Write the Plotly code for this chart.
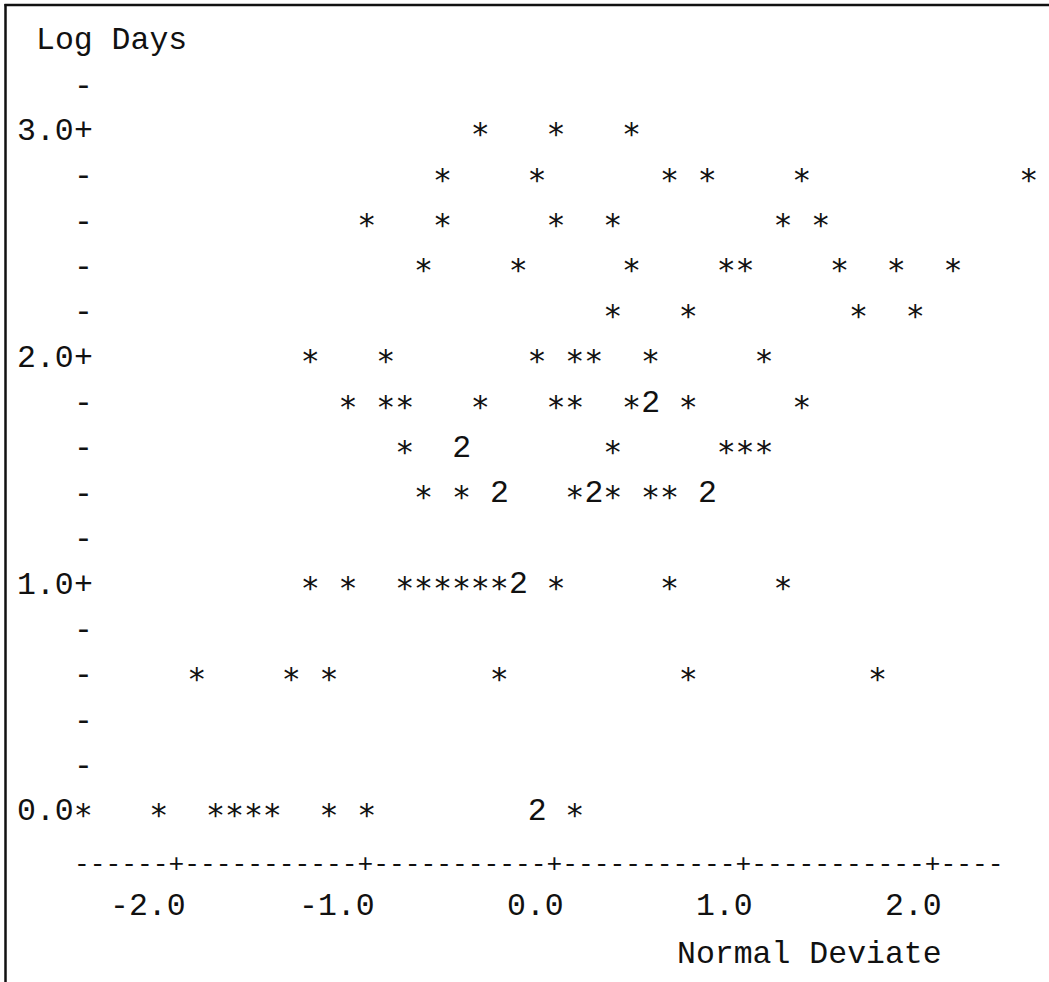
import plotly.graph_objects as go

# Normal deviate (x), log10 days (y) and number of cases printed in each cell.
normal_deviate = [
    -0.39, 0.01, 0.41,                                             # 3.0
    -0.59, -0.09, 0.61, 0.81, 1.31, 2.51,                          # 2.8
    -0.99, -0.59, 0.01, 0.31, 1.21, 1.41,                          # 2.6
    -0.69, -0.19, 0.41, 0.91, 1.01, 1.51, 1.81, 2.11,              # 2.4
    0.31, 0.71, 1.61, 1.91,                                        # 2.2
    -1.29, -0.89, -0.09, 0.11, 0.21, 0.51, 1.11,                   # 2.0
    -1.09, -0.89, -0.79, -0.39, 0.01, 0.11, 0.41, 0.51, 0.71, 1.31,  # 1.8
    -0.79, -0.49, 0.31, 0.91, 1.01, 1.11,                          # 1.6
    -0.69, -0.49, -0.29, 0.11, 0.21, 0.31, 0.51, 0.61, 0.81,       # 1.4
    -1.29, -1.09, -0.79, -0.69, -0.59, -0.49, -0.39, -0.29, -0.19, 0.01, 0.61, 1.21,  # 1.0
    -1.89, -1.39, -1.19, -0.29, 0.71, 1.71,                        # 0.6
    -2.49, -2.09, -1.79, -1.69, -1.59, -1.49, -1.19, -0.99, -0.09, 0.11,  # 0.0
]
log_days = (
    [3.0] * 3 + [2.8] * 6 + [2.6] * 6 + [2.4] * 8 + [2.2] * 4 + [2.0] * 7
    + [1.8] * 10 + [1.6] * 6 + [1.4] * 9 + [1.0] * 12 + [0.6] * 6 + [0.0] * 10
)
case_count = [
    1, 1, 1,
    1, 1, 1, 1, 1, 1,
    1, 1, 1, 1, 1, 1,
    1, 1, 1, 1, 1, 1, 1, 1,
    1, 1, 1, 1,
    1, 1, 1, 1, 1, 1, 1,
    1, 1, 1, 1, 1, 1, 1, 2, 1, 1,
    1, 2, 1, 1, 1, 1,
    1, 1, 2, 1, 2, 1, 1, 1, 2,
    1, 1, 1, 1, 1, 1, 1, 1, 2, 1, 1, 1,
    1, 1, 1, 1, 1, 1,
    1, 1, 1, 1, 1, 1, 1, 1, 2, 1,
]

y_rows = [0.0, 0.2, 0.4, 0.6, 0.8, 1.0, 1.2, 1.4, 1.6, 1.8, 2.0, 2.2, 2.4, 2.6, 2.8, 3.0, 3.2]
y_major = [0.0, 1.0, 2.0, 3.0]
x_ticks = [-2.0, -1.0, 0.0, 1.0, 2.0]
x_tick_labels = ["-2.0", "-1.0", "0.0", "1.0", "2.0"]

# character-grid geometry (data units)
COL = 0.1            # width of one printed column on the x scale
AXIS_X = -2.49       # column holding the vertical axis
FONT = "Liberation Mono, DejaVu Sans Mono, monospace"
STAR_FONT = "DejaVu Sans Mono, Liberation Mono, monospace"
SIZE = 31.5
INK = "#111111"

W, H = 1049, 982
X_PER_PX, X0_PX = 189.1, 554.3
Y_PER_PX, Y0_PX = 226.7, 811.7

fig = go.Figure()

# single cases print as an asterisk, coincident cases as their count
single = [(x, y) for x, y, n in zip(normal_deviate, log_days, case_count) if n == 1]
multi = [(x, y, n) for x, y, n in zip(normal_deviate, log_days, case_count) if n > 1]

fig.add_trace(go.Scatter(
    x=[p[0] for p in single], y=[p[1] for p in single], mode="text",
    text=["\u2217"] * len(single), textposition="middle center",
    textfont=dict(family=STAR_FONT, size=SIZE, color=INK),
    hoverinfo="skip", showlegend=False,
))
fig.add_trace(go.Scatter(
    x=[p[0] for p in multi], y=[p[1] for p in multi], mode="text",
    text=[str(p[2]) for p in multi], textposition="middle center",
    textfont=dict(family=FONT, size=SIZE, color=INK),
    hoverinfo="skip", showlegend=False,
))

ann = []
txt = dict(family=FONT, size=SIZE, color=INK)

# vertical axis: labels and tick characters
for v in y_rows:
    is_major = any(abs(v - m) < 1e-9 for m in y_major)
    occupied = any(abs(x - AXIS_X) < COL / 2 and abs(y - v) < 1e-9
                   for x, y in zip(normal_deviate, log_days))
    if not occupied:
        ann.append(dict(x=AXIS_X, y=v, text="+" if is_major else "-",
                        xanchor="center", yanchor="middle", showarrow=False,
                        font=txt, borderpad=0, borderwidth=0))
    if is_major:
        ann.append(dict(x=AXIS_X - COL / 2, y=v, text=f"{v:.1f}",
                        xanchor="right", yanchor="middle", showarrow=False,
                        font=txt, borderpad=0, borderwidth=0))

ann.append(dict(x=AXIS_X - 2 * COL - COL / 2, y=3.4, text="Log Days",
                xanchor="left", yanchor="middle", showarrow=False,
                font=txt, borderpad=0, borderwidth=0))

# horizontal axis drawn as a printed rule with '+' at each tick
rule = "------+" + "-----------+" * 4 + "----"
rule_center = x_ticks[0] + (len(rule) - 1) / 2 / 12 - 6 / 12
ann.append(dict(x=rule_center, y=-0.235, text=rule, xanchor="center", yanchor="middle",
                showarrow=False, font=dict(family=FONT, size=X_PER_PX / 12 / 0.6, color=INK),
                borderpad=0, borderwidth=0))

for v, lab in zip(x_ticks, x_tick_labels):
    ann.append(dict(x=v + COL / 2, y=-0.42, text=lab, xanchor="right", yanchor="middle",
                    showarrow=False, font=txt, borderpad=0, borderwidth=0))

ann.append(dict(x=x_ticks[-1] + COL / 2, y=-0.63, text="Normal Deviate",
                xanchor="right", yanchor="middle", showarrow=False,
                font=txt, borderpad=0, borderwidth=0))

fig.update_layout(
    width=W, height=H, autosize=False,
    margin=dict(l=0, r=0, t=0, b=0),
    paper_bgcolor="white", plot_bgcolor="white",
    xaxis=dict(range=[(0 - X0_PX) / X_PER_PX, (W - X0_PX) / X_PER_PX],
               visible=False, fixedrange=True),
    yaxis=dict(range=[(Y0_PX - H) / Y_PER_PX, Y0_PX / Y_PER_PX],
               visible=False, fixedrange=True),
    annotations=ann,
    shapes=[
        dict(type="line", xref="paper", yref="paper", x0=5.5 / W, x1=5.5 / W,
             y0=0, y1=1 - 4 / H, line=dict(color=INK, width=2.5)),
        dict(type="line", xref="paper", yref="paper", x0=4.5 / W, x1=1,
             y0=1 - 5 / H, y1=1 - 5 / H, line=dict(color=INK, width=2.5)),
    ],
)

fig.write_html("out.html")
